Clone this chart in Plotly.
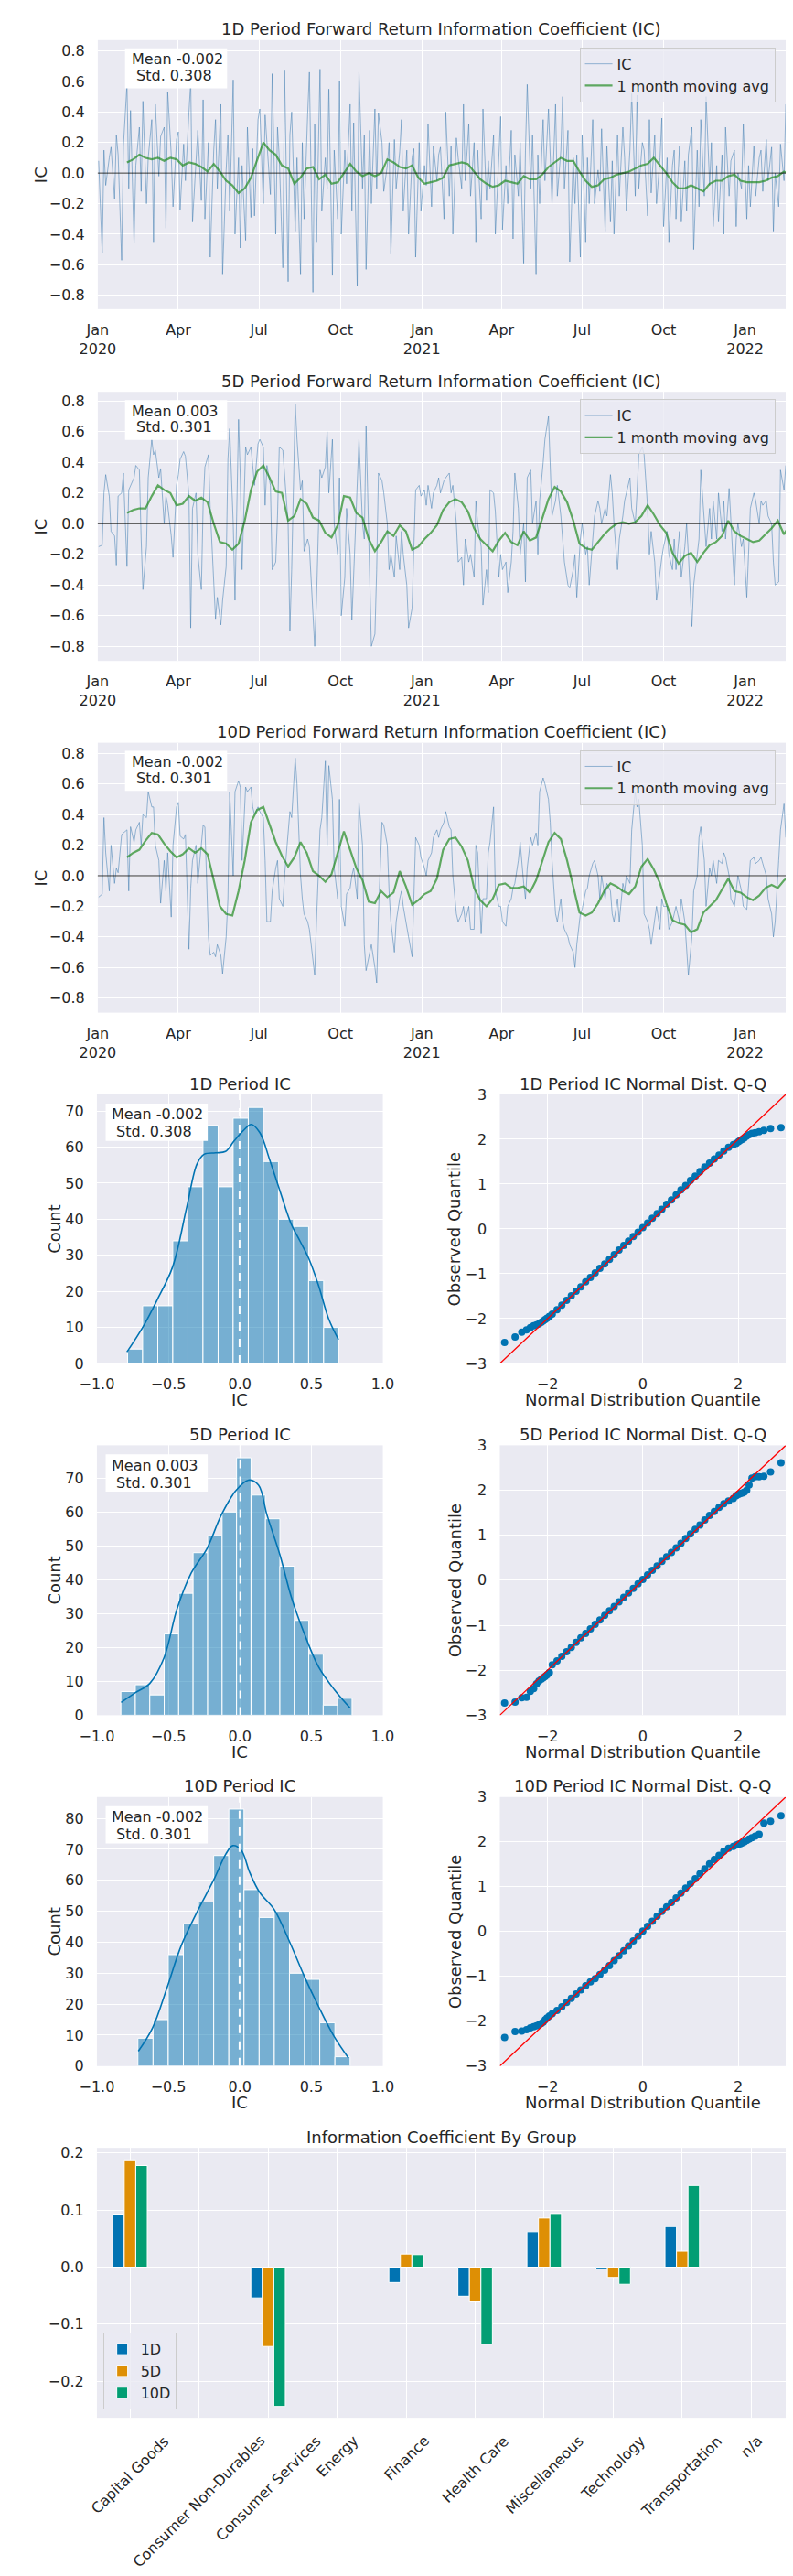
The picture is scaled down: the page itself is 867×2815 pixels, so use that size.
import numpy as np
import pandas as pd
import plotly.graph_objects as go

###### Data ##############################

PERIODS = ["1D", "5D", "10D"]
IC_MEANS = [-0.002, 0.003, -0.002]
IC_STDS = [0.308, 0.301, 0.301]

# daily IC sampled every second business day from 2020-01-02 (values x100), one line per month
IC_1D = [
    8, -52, 15, -8, 10, 17, -17, 25, 12, -57, 18,
    58, -10, 41, -46, 5, 30, -12, 47, -20, 10, 35,
    -45, 45, -2, 24, 30, -36, 53, 12, -22, 22,
    27, -24, 19, -5, 40, 60, -32, 10, 28, -18, 48,
    -30, 20, -55, 15, 35, -10, 45, -66, 2, 25, -25,
    61, -40, 10, -49, 5, -44, 30, -29, 16, -28, 35,
    42, -20, 38, 20, -14, 65, -40, 30, 10, -62,
    67, -71, 25, 40, -38, 10, -66, 20, -30, 38, 66,
    -78, 32, -45, 68, -25, 10, -10, 55, -67, 15, -30,
    60, -40, 15, -7, 45, -25, 33, -74, 66, -10, 25,
    -63, 28, -20, 42, -10, 39, 20, -12, 5, 20,
    -53, 22, -10, 14, 35, -25, 15, -40, 10, 16, -55,
    20, -25, 5, -8, 32, -22, 18, -5, 12, 17, -30,
    40, -15, 18, -40, 23, 10, -10, 45, -5, 32, -15,
    20, -45, 15, -30, 42, -18, 8, -10, 25, -40, 10,
    37, -37, 5, -20, 28, -43, 12, -15, 20, -59, 15,
    58, -10, 25, -66, 12, -20, 35, -5, 42, 10, -20,
    45, -15, 15, 50, -10, 28, -58, 10, -20, 12, -55,
    25, -45, 10, -20, 35, -20, 2, -12, 29, -38, 18,
    -32, 8, -40, 25, -15, 30, 10, -25, 15, 52, -15,
    51, -10, 20, 15, -28, 35, -13, 25, -20, 10, 36,
    -35, 10, -45, 5, 15, -30, 18, -32, 8, -25, 12,
    30, -50, 15, -22, 35, -15, 50, -8, 20, -35, 5,
    -32, 12, -40, 30, -15, 8, 15, -35, 0, -10, 32,
    -30, 5, -22, 18, -15, 10, 15, -12, 22, -5, 17,
    -38, 0, -22, 19, -5, 45,
]
IC_5D = [
    -15, -14, 20, 32, 18, -5, -8, -27, 18, 20, 33,
    -28, 22, 25, 30, 38, 35, -10, -43, -15, 30, 55,
    45, 48, 30, 36, 0, 18, 12, -8, -22, 25,
    32, 42, 47, 44, 18, -68, 10, 20, -20, -43, 12,
    37, 45, 10, -35, -62, -48, -66, -50, -28, 42, 62,
    0, -50, 68, 30, -30, 50, 45, 50, 38, 25, 52,
    55, 50, 12, 38, 25, -30, -25, 5, 50, 48,
    30, 0, -70, -30, 78, 55, 22, 28, -18, -10, -15,
    -60, -80, -50, 35, 30, 37, 60, 20, 55, 0, -20,
    30, -60, -35, 10, -20, -63, -35, 25, 55, 0, -10,
    64, -30, -80, -72, -30, 33, 28, 20, 0, -30,
    -20, -35, -8, -30, -5, -20, -40, -68, -55, -15, 22,
    25, 18, 22, 12, 25, 10, 20, 25, 30, 20, 28,
    30, 33, 20, 25, 0, -25, -22, -40, -10, -25, -20,
    -35, 15, 0, -15, -53, -30, -45, 22, 20, 8, -35,
    -20, -30, -25, -45, -25, -5, 33, 10, -20, 0, -38,
    30, 35, 0, 15, -20, 15, 40, 55, 70, 35, 5,
    15, 25, 5, -10, -25, -40, -42, -30, -20, -48, -10,
    0, -20, -15, -40, -10, 5, 15, 10, 0, 10, 5,
    32, 20, 0, -30, -10, 5, 15, 20, 30, 10, 0,
    20, 45, 50, 45, 10, -20, -5, -25, -50, -30, -22,
    -15, -5, -20, -30, -10, -30, -5, -35, -15, 0, -20,
    -67, -40, -20, -10, 35, 5, -15, 10, -10, 15, -10,
    20, -5, 15, -10, 23, 0, -40, -10, 0, -15, -10,
    -48, -20, 10, 20, 15, 0, 15, 12, 15, 5, 0,
    -25, -40, -38, 35, 22, 38,
]
IC_10D = [
    -14, -12, 38, 15, -10, 20, -5, 5, 2, 27, 28,
    30, -10, 32, 22, 30, 35, 20, 40, 38, 55, 45,
    45, 20, 10, -18, 10, -10, 15, -27, 20, 45,
    48, 26, 24, 27, -48, -8, 10, 20, -5, 18, 33,
    32, -40, -52, -50, -53, -45, -52, -64, -40, -15, 55,
    0, 55, 62, 58, 10, 58, 55, 58, 45, 40, 45,
    42, 38, 10, -30, -30, -10, 5, 10, -15, -20,
    0, 30, 42, 38, 77, 60, 0, -15, -25, -30, -35,
    -55, -65, -30, 30, 38, 75, 20, 72, 50, 5, -15,
    50, -20, -33, -12, -8, 0, 5, -15, 48, 20, -45,
    -62, -50, -45, -60, -70, -25, 35, 33, 20, -10,
    -30, -50, -30, -15, -10, -20, -35, -40, -53, -20, 25,
    20, 12, 5, 0, 10, 15, 25, 30, 25, 30, 35,
    42, 32, 30, 0, -25, -30, -25, -20, -30, -20, -35,
    -35, 20, 15, -38, -15, -15, 15, 22, 45, -10, -20,
    -20, -30, -33, -20, -15, -8, -5, 10, 22, -5, -15,
    5, 25, 20, 28, 20, 55, 64, 60, 50, 35, 10,
    -25, -30, -15, -30, -35, -40, -45, -50, -60, -45, -25,
    -22, -10, -8, 0, 8, 10, 0, -15, 0, -15, -5,
    -10, -25, -30, -15, -30, -5, -10, 0, -5, 30, 55,
    45, 50, 20, -25, -30, -35, -45, -30, -20, -35, -15,
    -20, -20, -35, -30, -25, -20, -30, -15, -30, -45, -65,
    -40, -10, 0, 25, 32, 10, -20, 5, 0, 10, -5,
    10, 8, 15, 12, 0, -15, -20, -10, 0, -10, -20,
    -22, -8, 10, 12, 8, 10, 12, 8, 0, -15, -25,
    -40, -30, 10, 30, 47, 25,
]

# 1 month moving average, weekly samples from 2020-02-03 (values x100)
MA_1D = [
    7, 9, 12, 10, 9, 10, 8, 10, 9, 5,
    7, 6, 4, 1, 6, 1, -5, -8, -13, -10,
    -3, 8, 20, 15, 12, 5, 3, -7, -3, 3,
    4, -4, -1, -7, -6, 0, 6, 1, -2, 0,
    -2, 0, 9, 7, 4, 3, 5, -3, -7, -6,
    -5, -3, 5, 6, 7, 6, 1, -4, -7, -9,
    -8, -5, -6, -7, -2, -4, -4, -1, 4, 7,
    10, 8, 8, 1, -5, -9, -8, -4, -3, -1,
    0, 1, 3, 5, 6, 10, 5, 0, -6, -10,
    -10, -8, -10, -12, -7, -5, -5, -2, -1, -5,
    -6, -6, -6, -5, -3, -2, 1, -1,
]
MA_5D = [
    7, 9, 10, 10, 18, 25, 22, 20, 12, 13,
    18, 15, 17, 14, 0, -12, -13, -17, -13, 2,
    22, 34, 38, 30, 21, 20, 2, 5, 16, 13,
    4, 2, -6, -9, -1, 18, 17, 7, 4, -10,
    -18, -12, -5, -8, -1, -5, -17, -15, -10, -6,
    -1, 9, 14, 16, 14, 8, -3, -10, -14, -18,
    -11, -6, -12, -14, -5, -11, -9, 4, 16, 24,
    21, 14, 2, -13, -16, -17, -12, -7, -3, 0,
    1, 0, 1, 5, 12, 6, -1, -6, -19, -26,
    -21, -19, -25, -19, -14, -12, -8, 2, -5, -8,
    -10, -12, -11, -7, -3, 2, -7, 0,
]
MA_10D = [
    12, 15, 17, 23, 28, 27, 21, 16, 12, 14,
    18, 15, 18, 14, -3, -20, -25, -26, -10, 10,
    35, 43, 45, 34, 22, 13, 6, 12, 22, 15,
    3, 0, -4, 1, 15, 29, 17, 5, -3, -17,
    -18, -10, -14, -11, 3, -7, -19, -16, -12, -10,
    -2, 17, 24, 25, 19, 10, -8, -16, -20, -15,
    -6, -5, -8, -8, -7, -11, -3, 10, 22, 28,
    24, 10, -8, -24, -26, -24, -18, -10, -5, -7,
    -10, -12, -7, 6, 11, 4, -5, -18, -29, -31,
    -32, -37, -35, -24, -20, -16, -9, -2, -10, -11,
    -14, -16, -13, -8, -6, -8, -3, 0,
]

QUARTER_TICKS = ["2020-01-01", "2020-04-01", "2020-07-01", "2020-10-01", "2021-01-01",
                 "2021-04-01", "2021-07-01", "2021-10-01", "2022-01-01"]
QUARTER_LABELS = ["Jan<br>2020", "Apr", "Jul", "Oct", "Jan<br>2021", "Apr", "Jul", "Oct", "Jan<br>2022"]

# histogram bins and counts
HIST_EDGES_1D = [-0.785, -0.680, -0.574, -0.469, -0.363, -0.258, -0.152, -0.047, 0.059,
                 0.164, 0.270, 0.375, 0.481, 0.586, 0.692]
HIST_COUNTS_1D = [4, 16, 16, 34, 49, 66, 49, 68, 71, 56, 40, 38, 23, 10]
HIST_EDGES_5D = [-0.832, -0.731, -0.630, -0.529, -0.428, -0.327, -0.225, -0.124, -0.023,
                 0.078, 0.179, 0.280, 0.381, 0.482, 0.583, 0.684, 0.785]
HIST_COUNTS_5D = [7, 9, 6, 24, 36, 48, 53, 60, 76, 65, 58, 44, 28, 18, 3, 5]
HIST_EDGES_10D = [-0.713, -0.607, -0.501, -0.395, -0.289, -0.183, -0.077, 0.029, 0.135,
                  0.241, 0.347, 0.453, 0.559, 0.665, 0.771]
HIST_COUNTS_10D = [9, 15, 36, 46, 53, 68, 83, 57, 48, 50, 30, 28, 14, 3]

# kde curves
KDE_X_1D = [-0.79, -0.68, -0.58, -0.47, -0.37, -0.30, -0.25, -0.17, -0.10, -0.04, 0.02,
            0.08, 0.14, 0.21, 0.28, 0.36, 0.42, 0.48, 0.55, 0.62, 0.69]
KDE_Y_1D = [3.2, 10.0, 17.5, 26.8, 43.6, 55.3, 58.0, 58.4, 58.8, 61.7, 64.4,
            66.3, 64.0, 56.3, 47.9, 38.6, 34.0, 29.3, 21.7, 12.5, 6.6]
KDE_X_5D = [-0.83, -0.73, -0.63, -0.53, -0.44, -0.34, -0.23, -0.13, -0.03, 0.06, 0.13,
            0.19, 0.28, 0.36, 0.45, 0.55, 0.66, 0.77]
KDE_Y_5D = [3.8, 6.7, 9.4, 17.0, 31.3, 42.0, 49.2, 59.1, 66.2, 69.4, 68.0,
            59.1, 47.4, 34.9, 24.2, 14.3, 7.6, 2.2]
KDE_X_10D = [-0.71, -0.61, -0.51, -0.41, -0.30, -0.18, -0.10, -0.05, 0.01, 0.07, 0.14,
             0.24, 0.35, 0.45, 0.55, 0.66, 0.76]
KDE_Y_10D = [4.8, 12.4, 25.2, 38.9, 49.7, 60.4, 68.3, 71.2, 69.7, 62.4, 56.0,
             50.6, 39.9, 29.1, 19.3, 9.5, 2.6]

# Q-Q: theoretical normal quantiles and observed (standardised) quantiles
QQ_X = [-2.9, -2.68, -2.54, -2.44, -2.36, -2.29, -2.23, -2.18, -2.13, -2.09, -2.05, -2.01, -1.96, -1.9,
        -1.8, -1.7, -1.6, -1.5, -1.4, -1.3, -1.2, -1.1, -1.0, -0.9, -0.8, -0.7, -0.6, -0.5, -0.4,
        -0.3, -0.2, -0.1, 0.0, 0.1, 0.2, 0.3, 0.4, 0.5, 0.6, 0.7, 0.8, 0.9, 1.0, 1.1, 1.2, 1.3,
        1.4, 1.5, 1.6, 1.7, 1.8,
        1.9, 1.96, 2.01, 2.05, 2.09, 2.13, 2.18, 2.23, 2.29, 2.36, 2.44, 2.54, 2.68, 2.9]
QQ_Y_1D = [-2.53, -2.41, -2.30, -2.25, -2.20, -2.16, -2.14, -2.12, -2.08, -2.05, -2.02, -1.99, -1.95, -1.90,
           -1.80, -1.70, -1.59, -1.49, -1.39, -1.29, -1.18, -1.08, -0.98, -0.88, -0.78, -0.68, -0.57,
           -0.47, -0.37, -0.27, -0.17, -0.07, 0.03, 0.13, 0.24, 0.34, 0.44, 0.55, 0.65, 0.76, 0.87,
           0.97, 1.08, 1.18, 1.28, 1.38, 1.47, 1.56, 1.65, 1.74, 1.82,
           1.88, 1.91, 1.95, 1.98, 2.00, 2.03, 2.07, 2.10, 2.13, 2.15, 2.17, 2.20, 2.24, 2.26]
QQ_Y_5D = [-2.73, -2.71, -2.61, -2.60, -2.47, -2.41, -2.30, -2.24, -2.20, -2.17, -2.14, -2.10, -2.05, -1.88,
           -1.79, -1.69, -1.59, -1.49, -1.38, -1.28, -1.18, -1.08, -0.98, -0.88, -0.78, -0.68, -0.58,
           -0.48, -0.38, -0.28, -0.18, -0.08, 0.02, 0.12, 0.22, 0.32, 0.42, 0.52, 0.62, 0.72, 0.82,
           0.93, 1.03, 1.13, 1.23, 1.34, 1.44, 1.53, 1.62, 1.70, 1.76,
           1.82, 1.88, 1.91, 1.93, 1.94, 1.96, 2.00, 2.12, 2.27, 2.30, 2.30, 2.31, 2.41, 2.61]
QQ_Y_10D = [-2.36, -2.23, -2.22, -2.19, -2.15, -2.12, -2.10, -2.08, -2.05, -2.02, -1.97, -1.93, -1.88, -1.83,
            -1.76, -1.68, -1.58, -1.49, -1.39, -1.30, -1.21, -1.12, -1.05, -0.96, -0.86, -0.76, -0.65,
            -0.54, -0.43, -0.32, -0.21, -0.10, 0.01, 0.12, 0.23, 0.34, 0.45, 0.55, 0.65, 0.75, 0.86,
            0.97, 1.07, 1.18, 1.29, 1.40, 1.51, 1.61, 1.70, 1.79, 1.86,
            1.90, 1.93, 1.95, 1.96, 1.98, 2.00, 2.03, 2.06, 2.09, 2.13, 2.17, 2.42, 2.46, 2.58]
QQ_RANGE = [-3, 3]

# IC by group
GROUPS = ["Capital Goods", "Consumer Non-Durables", "Consumer Services", "Energy", "Finance",
          "Health Care", "Miscellaneous", "Technology", "Transportation", "n/a"]
GROUP_IC_1D = [0.093, None, -0.054, None, -0.027, -0.051, 0.062, -0.003, 0.071, None]
GROUP_IC_5D = [0.188, None, -0.139, None, 0.023, -0.061, 0.086, -0.018, 0.028, None]
GROUP_IC_10D = [0.178, None, -0.244, None, 0.022, -0.135, 0.094, -0.030, 0.143, None]


###### Layout helpers #######
W, H = 867, 2815
TXT = "#262626"
FONT = "DejaVu Sans"
BLUE, ORANGE, GREEN = "#0173B2", "#DE8F05", "#029E73"


def fx(p):
    return p / W


def fy(p):
    return 1 - p / H


def xname(n):
    return "x" if n == 1 else f"x{n}"


def yname(n):
    return "y" if n == 1 else f"y{n}"


def ax_style(**kw):
    d = dict(showline=False, zeroline=False, showgrid=True, gridcolor="white", gridwidth=1.3,
             ticks="outside", tickcolor="rgba(0,0,0,0)", tickfont=dict(size=16, color=TXT))
    d.update(kw)
    return d


annotations = []
shapes = []


def note(text, x, y, size=18, angle=0, **kw):
    d = dict(text=text, x=fx(x), y=fy(y), xref="paper", yref="paper", showarrow=False,
             font=dict(size=size, color=TXT, family=FONT), textangle=angle,
             xanchor="center", yanchor="middle")
    d.update(kw)
    annotations.append(d)


def stat_box(i, x0, y0, x1, y1, gap):
    # white box (drawn over the lines) with the two text lines
    shapes.append(dict(type="rect", xref="paper", yref="paper", x0=fx(x0), x1=fx(x1),
                       y0=fy(y1), y1=fy(y0), fillcolor="white", line=dict(width=0), layer="above"))
    note(f"Mean {IC_MEANS[i]:.3f}", x0 + 5, y0 + 12, size=16, xanchor="left")
    note(f"\u00a0Std. {IC_STDS[i]:.3f}", x0 + 5, y0 + 12 + gap, size=16, xanchor="left")


fig = go.Figure()
layout = {}

TS_BOX = [(82, 27, 864, 323), (82, 414, 864, 710), (82, 800, 864, 1097)]
TS_YRANGE = [[-0.89, 0.87], [-0.895, 0.86], [-0.895, 0.87]]
LEGENDS = ["legend", "legend2", "legend3"]

ic_lists = [IC_1D, IC_5D, IC_10D]
ma_lists = [MA_1D, MA_5D, MA_10D]

###### Time series panels #######
for i, period in enumerate(PERIODS):
    n = i + 1
    l, t, r, b = TS_BOX[i]
    ic = np.array(ic_lists[i]) / 100
    ic_dates = pd.bdate_range("2020-01-02", periods=len(ic), freq="2B")
    ma = np.array(ma_lists[i]) / 100
    ma_dates = pd.date_range("2020-02-03", periods=len(ma), freq="7D")

    fig.add_trace(go.Scatter(x=ic_dates, y=ic, mode="lines", name="IC",
                             line=dict(color="rgba(70,130,180,0.7)", width=0.8),
                             xaxis=xname(n), yaxis=yname(n), legend=LEGENDS[i]))
    fig.add_trace(go.Scatter(x=ma_dates, y=ma, mode="lines", name="1 month moving avg",
                             line=dict(color="rgba(34,139,34,0.7)", width=2.2),
                             xaxis=xname(n), yaxis=yname(n), legend=LEGENDS[i]))

    layout["xaxis" if n == 1 else f"xaxis{n}"] = ax_style(
        domain=[fx(l), fx(r)], anchor=yname(n), type="date",
        range=["2020-01-01", "2022-02-16"], tickvals=QUARTER_TICKS, ticktext=QUARTER_LABELS,
        ticklen=8)
    layout["yaxis" if n == 1 else f"yaxis{n}"] = ax_style(
        domain=[fy(b), fy(t)], anchor=xname(n), range=TS_YRANGE[i],
        tick0=0, dtick=0.2, tickformat=".1f", ticklen=10)

    layout[LEGENDS[i]] = dict(x=fx(852), xanchor="right", y=fy(t + 8), yanchor="top",
                              bgcolor="rgba(234,234,242,0.8)", bordercolor="#cccccc",
                              borderwidth=1, font=dict(size=16, color=TXT, family=FONT))

    shapes.append(dict(type="line", xref=f"{xname(n)} domain", x0=0, x1=1,
                       yref=yname(n), y0=0, y1=0, line=dict(color="rgba(0,0,0,0.8)", width=1)))

    note(f"{period} Period Forward Return Information Coefficient (IC)", (l + r) / 2, t - 12)
    note("IC", 17, (t + b) / 2, angle=-90)
    stat_box(i, l + 31, t + 9, l + 147, t + 53, 18)

###### Histogram + Q-Q rows #######
ROW_Y = [(1187, 1483), (1573, 1870), (1960, 2256)]
HIST_PX = (81, 406)
QQ_PX = (539, 864)
HIST_YMAX = [74.6, 79.7, 86.9]
hist_edges = [HIST_EDGES_1D, HIST_EDGES_5D, HIST_EDGES_10D]
hist_counts = [HIST_COUNTS_1D, HIST_COUNTS_5D, HIST_COUNTS_10D]
kde_x = [KDE_X_1D, KDE_X_5D, KDE_X_10D]
kde_y = [KDE_Y_1D, KDE_Y_5D, KDE_Y_10D]
qq_y = [QQ_Y_1D, QQ_Y_5D, QQ_Y_10D]

for i, period in enumerate(PERIODS):
    nh, nq = 4 + 2 * i, 5 + 2 * i
    t, b = ROW_Y[i]
    edges = np.array(hist_edges[i])
    centers = (edges[:-1] + edges[1:]) / 2
    widths = np.diff(edges)

    fig.add_trace(go.Bar(x=centers, y=hist_counts[i], width=widths, showlegend=False,
                         marker=dict(color="rgba(1,115,178,0.5)", line=dict(color="white", width=1)),
                         xaxis=xname(nh), yaxis=yname(nh)))
    fig.add_trace(go.Scatter(x=kde_x[i], y=kde_y[i], mode="lines", showlegend=False,
                             line=dict(color=BLUE, width=1.6, shape="spline"),
                             xaxis=xname(nh), yaxis=yname(nh)))
    shapes.append(dict(type="line", xref=xname(nh), x0=IC_MEANS[i], x1=IC_MEANS[i],
                       yref=f"{yname(nh)} domain", y0=0, y1=1,
                       line=dict(color="white", width=2, dash="dash")))

    layout[f"xaxis{nh}"] = ax_style(domain=[fx(HIST_PX[0]), fx(HIST_PX[1])], anchor=yname(nh),
                                    range=[-1, 1], tickvals=[-1, -0.5, 0, 0.5, 1],
                                    tickformat=".1f", ticklen=8)
    layout[f"yaxis{nh}"] = ax_style(domain=[fy(b), fy(t)], anchor=xname(nh),
                                    range=[0, HIST_YMAX[i]], tick0=0, dtick=10, ticklen=10)

    fig.add_trace(go.Scatter(x=QQ_X, y=qq_y[i], mode="markers", showlegend=False,
                             marker=dict(color=BLUE, size=8),
                             xaxis=xname(nq), yaxis=yname(nq)))
    fig.add_trace(go.Scatter(x=QQ_RANGE, y=QQ_RANGE, mode="lines", showlegend=False,
                             line=dict(color="red", width=1.3),
                             xaxis=xname(nq), yaxis=yname(nq)))
    layout[f"xaxis{nq}"] = ax_style(domain=[fx(QQ_PX[0]), fx(QQ_PX[1])], anchor=yname(nq),
                                    range=QQ_RANGE, tickvals=[-2, 0, 2], ticklen=8)
    layout[f"yaxis{nq}"] = ax_style(domain=[fy(b), fy(t)], anchor=xname(nq),
                                    range=QQ_RANGE, tickvals=[-3, -2, -1, 0, 1, 2, 3], ticklen=10)

    hc = (HIST_PX[0] + HIST_PX[1]) / 2
    qc = (QQ_PX[0] + QQ_PX[1]) / 2
    note(f"{period} Period IC", hc, t - 12)
    note(f"{period} Period IC Normal Dist. Q-Q", qc, t - 12)
    note("IC", hc, b + 40)
    note("Normal Distribution Quantile", qc, b + 40)
    note("Count", 33, (t + b) / 2, angle=-90)
    note("Observed Quantile", 488, (t + b) / 2, angle=-90)
    stat_box(i, HIST_PX[0] + 10, t + 10, HIST_PX[0] + 126, t + 51, 19)

###### IC by group #######
bl, bt, br, bb = 81, 2346, 864, 2643
for name, vals, color in [("1D", GROUP_IC_1D, BLUE), ("5D", GROUP_IC_5D, ORANGE),
                          ("10D", GROUP_IC_10D, GREEN)]:
    fig.add_trace(go.Bar(x=GROUPS, y=vals, name=name, legend="legend4",
                         marker=dict(color=color, line=dict(color="white", width=1)),
                         xaxis="x10", yaxis="y10"))

layout["xaxis10"] = ax_style(domain=[fx(bl), fx(br)], anchor="y10", type="category",
                             range=[-0.48, 9.5], showticklabels=False)
layout["yaxis10"] = ax_style(domain=[fy(bb), fy(bt)], anchor="x10", range=[-0.264, 0.209],
                             tickvals=[-0.2, -0.1, 0, 0.1, 0.2], tickformat=".1f", ticklen=10)
layout["legend4"] = dict(x=fx(88), xanchor="left", y=fy(2634), yanchor="bottom",
                         bgcolor="rgba(234,234,242,0.8)", bordercolor="#cccccc", borderwidth=1,
                         traceorder="normal", font=dict(size=16, color=TXT, family=FONT))
note("Information Coefficient By Group", (bl + br) / 2, bt - 12)
for g in GROUPS:
    annotations.append(dict(text=g, x=g, xref="x10", y=fy(bb + 13), yref="paper",
                            showarrow=False, textangle=-45, xanchor="center", yanchor="top",
                            font=dict(size=16, color=TXT, family=FONT)))

fig.update_layout(
    width=W, height=H, autosize=False,
    margin=dict(l=0, r=0, t=0, b=0),
    paper_bgcolor="white", plot_bgcolor="#EAEAF2",
    font=dict(family=FONT, color=TXT, size=16),
    barmode="group", bargap=0.5, bargroupgap=0,
    annotations=annotations, shapes=shapes,
    **layout,
)

fig.write_html("out.html")
